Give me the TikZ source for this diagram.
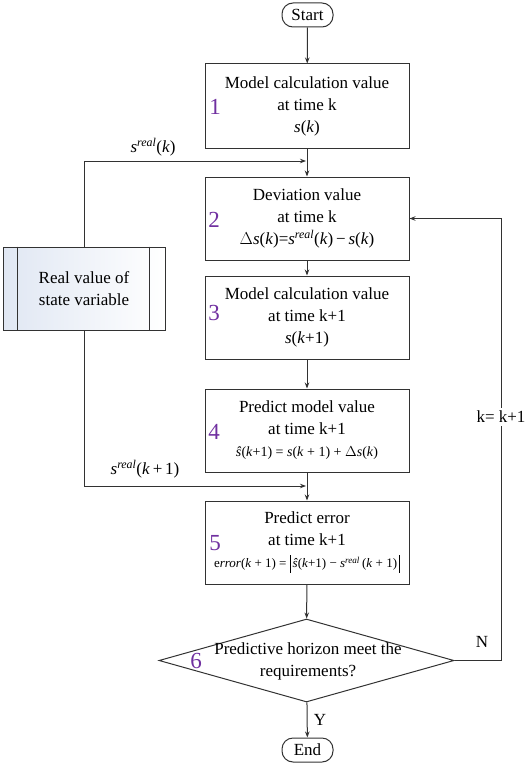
\documentclass[tikz,border=0pt]{standalone}
\usepackage{fontspec}
\setmainfont{Liberation Serif}
\usetikzlibrary{arrows.meta,shapes.geometric,calc}
\definecolor{linec}{RGB}{50,50,50}
\definecolor{numc}{RGB}{112,48,160}
\definecolor{shadec}{RGB}{224,231,243}
\newcommand\mainsz{\fontsize{17}{22}\selectfont}
\newcommand\smsz{\fontsize{14}{22}\selectfont}
\newcommand\xsmsz{\fontsize{13}{22}\selectfont}
\newcommand\numsz{\fontsize{23}{23}\selectfont}
\newcommand\iv[1]{\textit{#1}}
\newcommand\sreal{\iv{s}\textsuperscript{\iv{real}}}
\tikzset{
  line/.style={draw=linec, line width=1pt},
  arr/.style={line, -{Stealth[length=6pt,width=4.5pt]}},
  procbox/.style={draw=linec, line width=1pt, minimum width=204pt, minimum height=83pt, inner sep=0pt, align=center, font=\mainsz},
  num/.style={text=numc, font=\numsz, inner sep=0pt},
  term/.style={draw=linec, line width=1pt, rounded corners=11pt, minimum width=51pt, minimum height=24pt, inner sep=0pt, font=\mainsz},
  lbl/.style={font=\mainsz, inner sep=1pt},
}
\begin{document}
\begin{tikzpicture}[x=1pt,y=-1pt]
\useasboundingbox (0,0) rectangle (526,768);
% terminals
\node[term] (start) at (307.5,15) {Start};
\node[term] (end) at (307.5,750) {End};
% process boxes
\node[procbox, minimum height=84pt] (b1) at (307,106) {Model calculation value\\at time k\\\iv{s}(\iv{k})};
\node[procbox] (b2) at (307,218.5) {Deviation value\\at time k\\$\Delta$\iv{s}(\iv{k})=\sreal(\iv{k})\,−\,\iv{s}(\iv{k})};
\node[procbox] (b3) at (307,317.5) {Model calculation value\\at time k+1\\\iv{s}(\iv{k}+1)};
\node[procbox] (b4) at (307,430.5) {Predict model value\\at time k+1\\{\smsz\iv{ŝ}(\iv{k}+1) = \iv{s}(\iv{k} + 1) + $\Delta$\iv{s}(\iv{k})}};
\node[procbox] (b5) at (307,542.5) {Predict error\\at time k+1\\{\xsmsz e\iv{rror}(\iv{k} + 1) = \rule[-5pt]{0.7pt}{18pt}\,\iv{ŝ}(\iv{k}+1) − \sreal\,(\iv{k} + 1)\,\rule[-5pt]{0.7pt}{18pt}}};
% numbers
\node[num] (n1) at (215,107) {1};
\node[num] (n2) at (214,220) {2};
\node[num] (n3) at (214,313) {3};
\node[num] (n4) at (214,432) {4};
\node[num] (n5) at (215,543) {5};
% decision
\node[diamond, draw=linec, line width=1pt, minimum width=295pt, minimum height=83pt, inner sep=0pt] (dia) at (306.5,660.5) {};
\node[font=\mainsz, align=center, inner sep=0pt] (diat) at (308,661) {Predictive horizon meet the\\requirements?};
\node[num] (n6) at (196,661) {6};
% left data box
\node[line, minimum width=162pt, minimum height=83pt, left color=shadec, right color=white, font=\mainsz, align=center, inner sep=0pt] (real) at (84,288.5) {Real value of\\state variable};
\draw[line] ([xshift=15pt]real.north west) -- ([xshift=15pt]real.south west);
\draw[line] ([xshift=-16pt]real.north east) -- ([xshift=-16pt]real.south east);
% junction coordinates
\coordinate (j1) at (306,161);
\coordinate (j2) at (306,486);
% main flow
\draw[arr] (start) -- (b1);
\draw[arr] (b1) -- (b2);
\draw[arr] (b2) -- (b3);
\draw[arr] (b3) -- (b4);
\draw[arr] (b4) -- (b5);
\draw[arr] (b5) -- (dia);
\draw[arr] (dia) -- (end);
% real value feeds
\draw[arr] (real.north) |- (j1);
\draw[arr] (real.south) |- (j2);
\node[lbl] (l1) at (153,147) {\sreal(\iv{k})};
\node[lbl] (l2) at (145,469) {\sreal(\iv{k}\,+\,1)};
% feedback
\draw[arr] (dia.east) -- ++(47,0) |- (b2.east);
\node[lbl, fill=white, inner sep=3pt] (kl) at (501,417) {k= k+1};
\node[lbl] (nl) at (482,642) {N};
\node[lbl] (yl) at (320,720) {Y};
\end{tikzpicture}
\end{document}
